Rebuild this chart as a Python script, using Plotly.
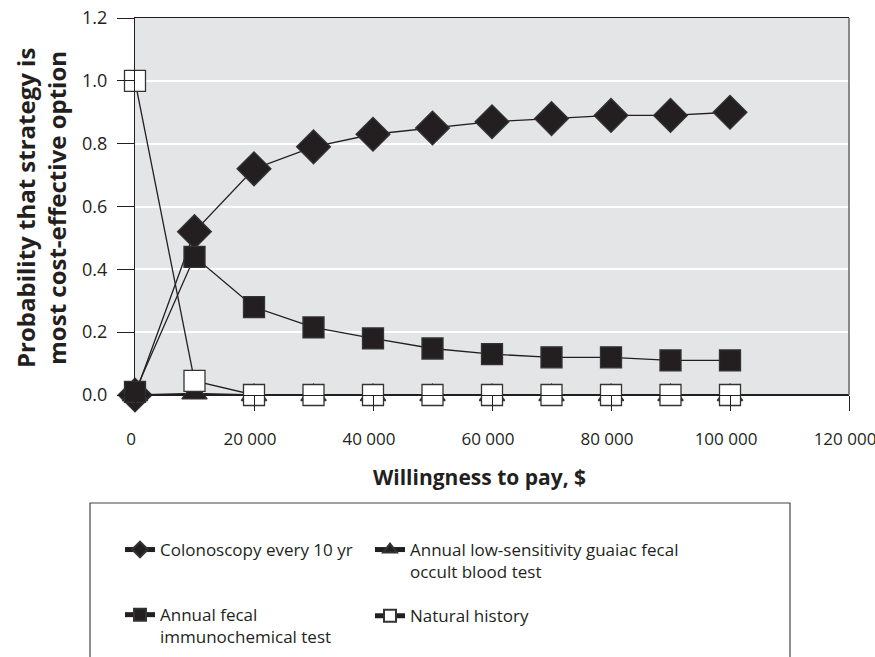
import plotly.graph_objects as go

# ---- data ----
wtp = [0, 10000, 20000, 30000, 40000, 50000, 60000, 70000, 80000, 90000, 100000]
colonoscopy = [0.0, 0.52, 0.72, 0.79, 0.83, 0.85, 0.87, 0.88, 0.89, 0.89, 0.90]
gfobt = [0.0, 0.005, 0.0, 0.0, 0.0, 0.0, 0.0, 0.0, 0.0, 0.0, 0.0]
fit = [0.01, 0.44, 0.28, 0.215, 0.18, 0.148, 0.13, 0.12, 0.12, 0.11, 0.11]
natural = [1.0, 0.045, 0.0, 0.0, 0.0, 0.0, 0.0, 0.0, 0.0, 0.0, 0.0]

names = ["Colonoscopy every 10 yr",
         "Annual low-sensitivity guaiac fecal<br>occult blood test",
         "Annual fecal<br>immunochemical test",
         "Natural history"]

x_tickvals = [0, 20000, 40000, 60000, 80000, 100000, 120000]
x_ticktext = ["0", "20 000", "40 000", "60 000", "80 000", "100 000", "120 000"]
y_tickvals = [0.0, 0.2, 0.4, 0.6, 0.8, 1.0, 1.2]
y_ticktext = ["0.0", "0.2", "0.4", "0.6", "0.8", "1.0", "1.2"]

x_title = "Willingness to pay, $"
y_title = "Probability that strategy is<br>most cost-effective option"

FONT = "Open Sans"
INK = "#231f20"

W, H = 875, 657
PL, PR, PT, PB = 135, 849, 18, 395          # plot area in px
L, T, R, B = PL, PT, W - PR, H - PB
pw, ph = PR - PL, PB - PT

def sx(px):
    return (px - PL) / pw

def sy(py):
    return (PB - py) / ph

fig = go.Figure()

def add(y, name, symbol, size, fill, legend, group):
    fig.add_trace(go.Scatter(
        x=wtp, y=y, name=name, mode="lines+markers",
        line=dict(color=INK, width=1.3),
        marker=dict(symbol=symbol, size=size, color=fill,
                    line=dict(color="#333333", width=1.3)),
        cliponaxis=False, legend=legend, legendgroup=group,
        hoverinfo="skip",
    ))

add(colonoscopy, names[0], "diamond", 26, INK, "legend", "a")
add(gfobt, names[1], "triangle-up", 22, INK, "legend2", "c")
add(fit, names[2], "square", 21, INK, "legend", "b")
add(natural, names[3], "square", 21, "white", "legend2", "d")

leg_common = dict(
    orientation="v", yanchor="top", xanchor="left",
    valign="top", itemsizing="constant",
    font=dict(family=FONT, size=17, color=INK),
    bgcolor="rgba(0,0,0,0)", traceorder="grouped",
)

fig.update_layout(
    width=W, height=H,
    margin=dict(l=L, r=R, t=T, b=B, autoexpand=False),
    paper_bgcolor="white",
    plot_bgcolor="#e4e5e7",
    font=dict(family=FONT, color=INK, size=18),
    showlegend=True,
    legend=dict(leg_common, x=sx(120), y=sy(532), tracegroupgap=40),
    legend2=dict(leg_common, x=sx(370), y=sy(532), tracegroupgap=19),
    xaxis=dict(
        range=[0, 120000], automargin=False,
        tickvals=x_tickvals, ticktext=x_ticktext,
        ticks="outside", ticklen=15, tickcolor=INK, tickwidth=1.2,
        ticklabelstandoff=13, ticklabelshift=-4, ticklabeloverflow="allow",
        showline=True, linecolor=INK, linewidth=1.2, mirror=True,
        showgrid=False, zeroline=False,
        tickfont=dict(size=17),
    ),
    yaxis=dict(
        range=[0, 1.2001], automargin=False,
        tickvals=y_tickvals, ticktext=y_ticktext,
        ticks="outside", ticklen=17, tickcolor=INK, tickwidth=1.2,
        ticklabelstandoff=6, ticklabeloverflow="allow",
        showline=True, linecolor=INK, linewidth=1.2,
        showgrid=True, gridcolor="white", gridwidth=1.6,
        zeroline=False,
        tickfont=dict(size=18),
    ),
    annotations=[
        dict(text="<b>" + x_title + "</b>", xref="paper", yref="paper",
             x=sx(479), y=sy(477), xanchor="center", yanchor="middle",
             showarrow=False, font=dict(size=21)),
        dict(text="<b>" + y_title + "</b>", xref="paper", yref="paper",
             x=sx(41), y=sy(208), xanchor="center", yanchor="middle",
             textangle=-90, showarrow=False, font=dict(size=24)),
    ],
    shapes=[
        dict(type="line", xref="paper", yref="paper", x0=1, x1=1, y0=0, y1=1,
             line=dict(color="#666666", width=1.5)),
        dict(type="line", xref="paper", yref="y", x0=0, x1=1, y0=0, y1=0,
             line=dict(color=INK, width=2), layer="below"),
        dict(type="rect", xref="paper", yref="paper",
             x0=sx(90), x1=sx(790), y0=sy(503), y1=sy(700),
             line=dict(color="#444444", width=1.2), fillcolor="rgba(0,0,0,0)"),
    ],
)

fig.write_html("out.html",
               config={"displayModeBar": False},
               post_script="document.body.style.margin='0';document.body.style.overflow='hidden';")
